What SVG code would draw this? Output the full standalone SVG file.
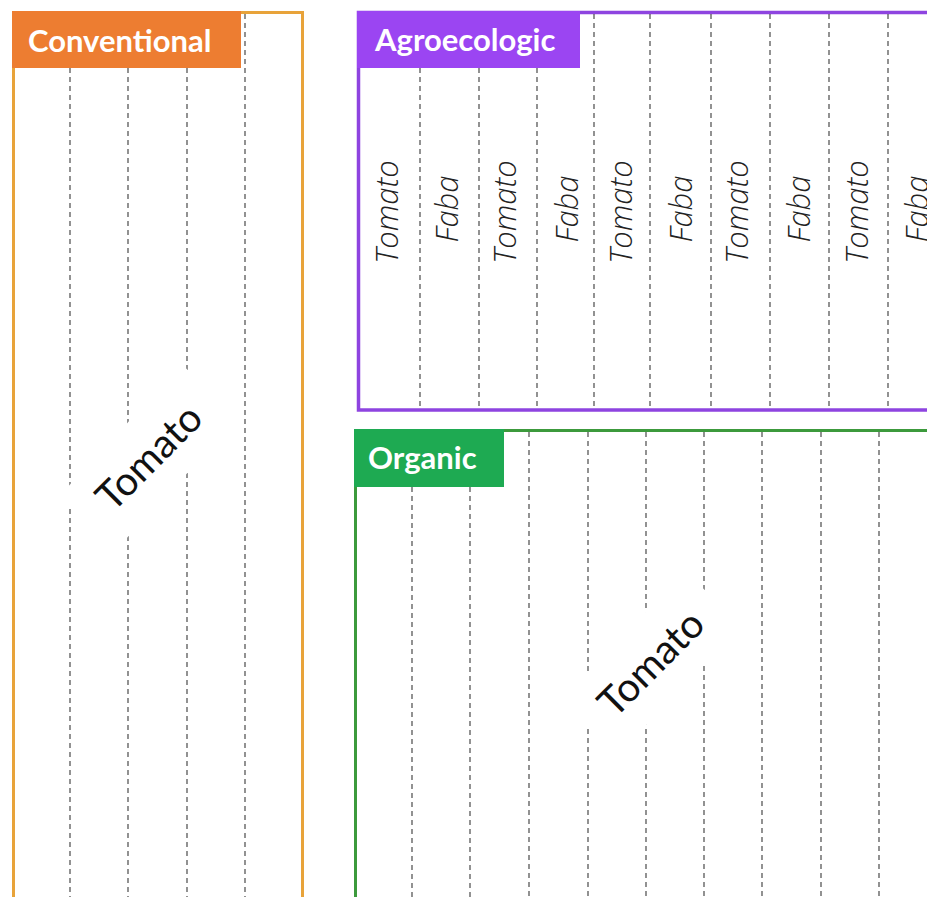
<svg xmlns="http://www.w3.org/2000/svg" width="927" height="897" viewBox="0 0 927 897">
<style>
.row{stroke:#4a4a4a;stroke-width:1.2;stroke-dasharray:5 4;fill:none}
.hdr{font-family:Lato,"Open Sans","Liberation Sans",sans-serif;font-weight:bold;font-size:31px;fill:#FFFFFF}
.crop{font-family:"Open Sans","Liberation Sans",sans-serif;font-style:italic;font-weight:300;font-size:31px;fill:#222;text-anchor:middle}
.diag{font-family:Lato,"Open Sans","Liberation Sans",sans-serif;font-size:40px;fill:#111;text-anchor:middle}
.mask{fill:#FFFFFF}
</style>
<rect x="0" y="0" width="927" height="897" fill="#FFFFFF"/>

<g id="conventional">
  <rect x="13.5" y="12.5" width="289" height="900" fill="#FFFFFF" stroke="#E8A33A" stroke-width="3"/>
  <line class="row" x1="70" y1="68" x2="70" y2="897"/>
  <line class="row" x1="128" y1="68" x2="128" y2="897"/>
  <line class="row" x1="187" y1="68" x2="187" y2="897"/>
  <line class="row" x1="245" y1="14" x2="245" y2="897"/>
  <rect x="12" y="11" width="229" height="57" fill="#ED7D31"/>
  <text class="hdr" x="28" y="52">Conventional</text>
  <g transform="translate(149,457)">
    <rect class="mask" x="-90" y="-39" width="180" height="78" transform="rotate(-47)"/>
    <text class="diag" x="0" y="14" transform="rotate(-45)">Tomato</text>
  </g>
</g>

<g id="agroecologic">
  <rect x="358.5" y="12.5" width="620" height="397.5" fill="#FFFFFF" stroke="#8E44E0" stroke-width="3.5"/>
  <line class="row" x1="420" y1="68" x2="420" y2="409"/>
  <line class="row" x1="479" y1="68" x2="479" y2="409"/>
  <line class="row" x1="537" y1="68" x2="537" y2="409"/>
  <line class="row" x1="594" y1="14" x2="594" y2="409"/>
  <line class="row" x1="650" y1="14" x2="650" y2="409"/>
  <line class="row" x1="711" y1="14" x2="711" y2="409"/>
  <line class="row" x1="770" y1="14" x2="770" y2="409"/>
  <line class="row" x1="829" y1="14" x2="829" y2="409"/>
  <line class="row" x1="888" y1="14" x2="888" y2="409"/>
  <rect x="357" y="11" width="223" height="57" fill="#9B45F2"/>
  <text class="hdr" x="375" y="51">Agroecologic</text>
  <text class="crop" transform="translate(398,212) rotate(-90)">Tomato</text>
  <text class="crop" transform="translate(458,209) rotate(-90)">Faba</text>
  <text class="crop" transform="translate(516,212) rotate(-90)">Tomato</text>
  <text class="crop" transform="translate(578,209) rotate(-90)">Faba</text>
  <text class="crop" transform="translate(632,212) rotate(-90)">Tomato</text>
  <text class="crop" transform="translate(692,209) rotate(-90)">Faba</text>
  <text class="crop" transform="translate(748,212) rotate(-90)">Tomato</text>
  <text class="crop" transform="translate(810,209) rotate(-90)">Faba</text>
  <text class="crop" transform="translate(868,212) rotate(-90)">Tomato</text>
  <text class="crop" transform="translate(928,209) rotate(-90)">Faba</text>
</g>

<g id="organic">
  <rect x="355.5" y="430.5" width="620" height="500" fill="#FFFFFF" stroke="#3C9A3C" stroke-width="3"/>
  <line class="row" x1="412" y1="487" x2="412" y2="897"/>
  <line class="row" x1="470" y1="487" x2="470" y2="897"/>
  <line class="row" x1="529" y1="432" x2="529" y2="897"/>
  <line class="row" x1="588" y1="432" x2="588" y2="897"/>
  <line class="row" x1="646" y1="432" x2="646" y2="897"/>
  <line class="row" x1="704" y1="432" x2="704" y2="897"/>
  <line class="row" x1="762" y1="432" x2="762" y2="897"/>
  <line class="row" x1="821" y1="432" x2="821" y2="897"/>
  <line class="row" x1="879" y1="432" x2="879" y2="897"/>
  <rect x="354" y="429" width="150" height="58" fill="#1EAA52"/>
  <text class="hdr" x="368" y="469">Organic</text>
  <g transform="translate(651,663)">
    <rect class="mask" x="-90" y="-39" width="180" height="78" transform="rotate(-47)"/>
    <text class="diag" x="0" y="14" transform="rotate(-45)">Tomato</text>
  </g>
</g>
</svg>
